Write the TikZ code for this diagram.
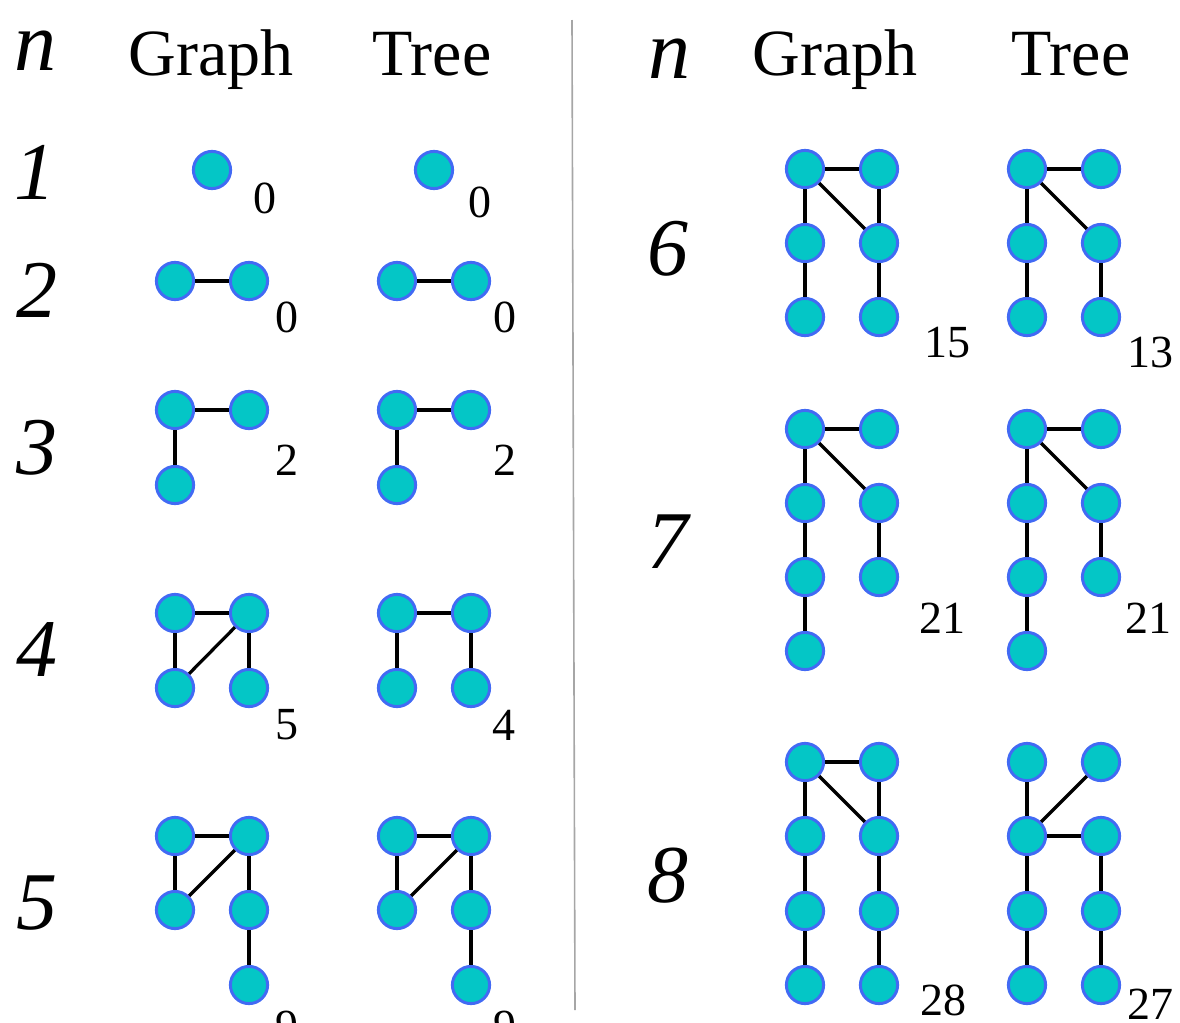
\documentclass[tikz,border=0pt]{standalone}
\usepackage{fontspec}
\setmainfont{Liberation Serif}

\definecolor{vfill}{RGB}{4,198,198}
\definecolor{vline}{RGB}{66,106,244}

\begin{document}
\begin{tikzpicture}[x=0.5pt,y=-0.5pt,
  vtx/.style={circle,fill=vfill,draw=vline,line width=1.5pt,minimum size=18.6pt,inner sep=0pt},
  edg/.style={line width=1.6pt,black},
  cnt/.style={font=\fontsize{23}{23}\selectfont,inner sep=0pt},
  hdr/.style={font=\fontsize{33}{33}\selectfont,anchor=base,inner sep=0pt},
  rowlab/.style={font=\fontsize{41}{41}\selectfont\itshape,inner sep=0pt}]

\useasboundingbox (0,0) rectangle (1180,1023);

% Columns (px)
\def\gl{175}  \def\gr{249}   % left graph
\def\tl{397}  \def\tr{471}   % left tree
\def\Gl{805}  \def\Gr{879}   % right graph
\def\Tl{1027} \def\Tr{1101}  % right tree

% Divider
\coordinate (divtop) at (572,20);
\coordinate (divbot) at (575,1010);
\draw[gray!70,line width=0.8pt] (divtop) -- (divbot);

% Headers
\node[hdr,font=\fontsize{42}{42}\selectfont\itshape] (hn1) at (36,70) {n};
\node[hdr] (hg1) at (211,75) {Graph};
\node[hdr] (ht1) at (432,75) {Tree};
\node[hdr,font=\fontsize{42}{42}\selectfont\itshape] (hn2) at (669,78) {n};
\node[hdr] (hg2) at (835,75) {Graph};
\node[hdr] (ht2) at (1071,75) {Tree};

% Row labels
\node[rowlab] (r1) at (35,172) {1};
\node[rowlab] (r2) at (37,290) {2};
\node[rowlab] (r3) at (37,448) {3};
\node[rowlab] (r4) at (37,650) {4};
\node[rowlab] (r5) at (37,903) {5};
\node[rowlab] (r6) at (668,249) {6};
\node[rowlab] (r7) at (668,542) {7};
\node[rowlab] (r8) at (668,876) {8};

% n = 1
\node[vtx] (g1) at (212,170) {};
\node[cnt] (cg1) at (265,198) {0};
\node[vtx] (t1) at (434,170) {};
\node[cnt] (ct1) at (480,202) {0};

% n = 2
\node[vtx] (g2a) at (\gl,281) {};
\node[vtx] (g2b) at (\gr,281) {};
\draw[edg] (g2a) -- (g2b);
\node[cnt] (cg2) at (287,317) {0};
\node[vtx] (t2a) at (\tl,281) {};
\node[vtx] (t2b) at (\tr,281) {};
\draw[edg] (t2a) -- (t2b);
\node[cnt] (ct2) at (505,317) {0};

% n = 3
\node[vtx] (g3a) at (\gl,410) {};
\node[vtx] (g3b) at (\gr,410) {};
\node[vtx] (g3c) at (\gl,485) {};
\draw[edg] (g3a) -- (g3b);
\draw[edg] (g3a) -- (g3c);
\node[cnt] (cg3) at (287,460) {2};
\node[vtx] (t3a) at (\tl,410) {};
\node[vtx] (t3b) at (\tr,410) {};
\node[vtx] (t3c) at (\tl,485) {};
\draw[edg] (t3a) -- (t3b);
\draw[edg] (t3a) -- (t3c);
\node[cnt] (ct3) at (505,460) {2};

% n = 4
\node[vtx] (g4a) at (\gl,613) {};
\node[vtx] (g4b) at (\gr,613) {};
\node[vtx] (g4c) at (\gl,688) {};
\node[vtx] (g4d) at (\gr,688) {};
\draw[edg] (g4a) -- (g4b);
\draw[edg] (g4a) -- (g4c);
\draw[edg] (g4b) -- (g4c);
\draw[edg] (g4b) -- (g4d);
\node[cnt] (cg4) at (287,725) {5};
\node[vtx] (t4a) at (\tl,613) {};
\node[vtx] (t4b) at (\tr,613) {};
\node[vtx] (t4c) at (\tl,688) {};
\node[vtx] (t4d) at (\tr,688) {};
\draw[edg] (t4a) -- (t4b);
\draw[edg] (t4a) -- (t4c);
\draw[edg] (t4b) -- (t4d);
\node[cnt] (ct4) at (504,725) {4};

% n = 5
\node[vtx] (g5a) at (\gl,836) {};
\node[vtx] (g5b) at (\gr,836) {};
\node[vtx] (g5c) at (\gl,910) {};
\node[vtx] (g5d) at (\gr,910) {};
\node[vtx] (g5e) at (\gr,985) {};
\draw[edg] (g5a) -- (g5b);
\draw[edg] (g5a) -- (g5c);
\draw[edg] (g5b) -- (g5c);
\draw[edg] (g5b) -- (g5d);
\draw[edg] (g5d) -- (g5e);
\node[cnt] (cg5) at (287,1026) {9};
\node[vtx] (t5a) at (\tl,836) {};
\node[vtx] (t5b) at (\tr,836) {};
\node[vtx] (t5c) at (\tl,910) {};
\node[vtx] (t5d) at (\tr,910) {};
\node[vtx] (t5e) at (\tr,985) {};
\draw[edg] (t5a) -- (t5b);
\draw[edg] (t5a) -- (t5c);
\draw[edg] (t5b) -- (t5c);
\draw[edg] (t5b) -- (t5d);
\draw[edg] (t5d) -- (t5e);
\node[cnt] (ct5) at (505,1026) {9};

% n = 6
\node[vtx] (g6a) at (\Gl,169) {};
\node[vtx] (g6b) at (\Gr,169) {};
\node[vtx] (g6c) at (\Gl,243) {};
\node[vtx] (g6d) at (\Gr,243) {};
\node[vtx] (g6e) at (\Gl,317) {};
\node[vtx] (g6f) at (\Gr,317) {};
\draw[edg] (g6a) -- (g6b);
\draw[edg] (g6a) -- (g6c);
\draw[edg] (g6a) -- (g6d);
\draw[edg] (g6b) -- (g6d);
\draw[edg] (g6c) -- (g6e);
\draw[edg] (g6d) -- (g6f);
\node[cnt] (cg6) at (947,343) {15};
\node[vtx] (t6a) at (\Tl,169) {};
\node[vtx] (t6b) at (\Tr,169) {};
\node[vtx] (t6c) at (\Tl,243) {};
\node[vtx] (t6d) at (\Tr,243) {};
\node[vtx] (t6e) at (\Tl,317) {};
\node[vtx] (t6f) at (\Tr,317) {};
\draw[edg] (t6a) -- (t6b);
\draw[edg] (t6a) -- (t6c);
\draw[edg] (t6a) -- (t6d);
\draw[edg] (t6c) -- (t6e);
\draw[edg] (t6d) -- (t6f);
\node[cnt] (ct6) at (1150,352) {13};

% n = 7
\node[vtx] (g7a) at (\Gl,429) {};
\node[vtx] (g7b) at (\Gr,429) {};
\node[vtx] (g7c) at (\Gl,503) {};
\node[vtx] (g7d) at (\Gr,503) {};
\node[vtx] (g7e) at (\Gl,577) {};
\node[vtx] (g7f) at (\Gr,577) {};
\node[vtx] (g7g) at (\Gl,651) {};
\draw[edg] (g7a) -- (g7b);
\draw[edg] (g7a) -- (g7c);
\draw[edg] (g7a) -- (g7d);
\draw[edg] (g7c) -- (g7e);
\draw[edg] (g7e) -- (g7g);
\draw[edg] (g7d) -- (g7f);
\node[cnt] (cg7) at (942,618) {21};
\node[vtx] (t7a) at (\Tl,429) {};
\node[vtx] (t7b) at (\Tr,429) {};
\node[vtx] (t7c) at (\Tl,503) {};
\node[vtx] (t7d) at (\Tr,503) {};
\node[vtx] (t7e) at (\Tl,577) {};
\node[vtx] (t7f) at (\Tr,577) {};
\node[vtx] (t7g) at (\Tl,651) {};
\draw[edg] (t7a) -- (t7b);
\draw[edg] (t7a) -- (t7c);
\draw[edg] (t7a) -- (t7d);
\draw[edg] (t7c) -- (t7e);
\draw[edg] (t7e) -- (t7g);
\draw[edg] (t7d) -- (t7f);
\node[cnt] (ct7) at (1148,618) {21};

% n = 8
\node[vtx] (g8a) at (\Gl,762) {};
\node[vtx] (g8b) at (\Gr,762) {};
\node[vtx] (g8c) at (\Gl,836) {};
\node[vtx] (g8d) at (\Gr,836) {};
\node[vtx] (g8e) at (\Gl,911) {};
\node[vtx] (g8f) at (\Gr,911) {};
\node[vtx] (g8g) at (\Gl,985) {};
\node[vtx] (g8h) at (\Gr,985) {};
\draw[edg] (g8a) -- (g8b);
\draw[edg] (g8a) -- (g8c);
\draw[edg] (g8a) -- (g8d);
\draw[edg] (g8b) -- (g8d);
\draw[edg] (g8c) -- (g8e);
\draw[edg] (g8e) -- (g8g);
\draw[edg] (g8d) -- (g8f);
\draw[edg] (g8f) -- (g8h);
\node[cnt] (cg8) at (943,1000) {28};
\node[vtx] (t8a) at (\Tl,762) {};
\node[vtx] (t8b) at (\Tr,762) {};
\node[vtx] (t8c) at (\Tl,836) {};
\node[vtx] (t8d) at (\Tr,836) {};
\node[vtx] (t8e) at (\Tl,911) {};
\node[vtx] (t8f) at (\Tr,911) {};
\node[vtx] (t8g) at (\Tl,985) {};
\node[vtx] (t8h) at (\Tr,985) {};
\draw[edg] (t8a) -- (t8c);
\draw[edg] (t8b) -- (t8c);
\draw[edg] (t8c) -- (t8d);
\draw[edg] (t8c) -- (t8e);
\draw[edg] (t8e) -- (t8g);
\draw[edg] (t8d) -- (t8f);
\draw[edg] (t8f) -- (t8h);
\node[cnt] (ct8) at (1150,1004) {27};

\end{tikzpicture}
\end{document}
